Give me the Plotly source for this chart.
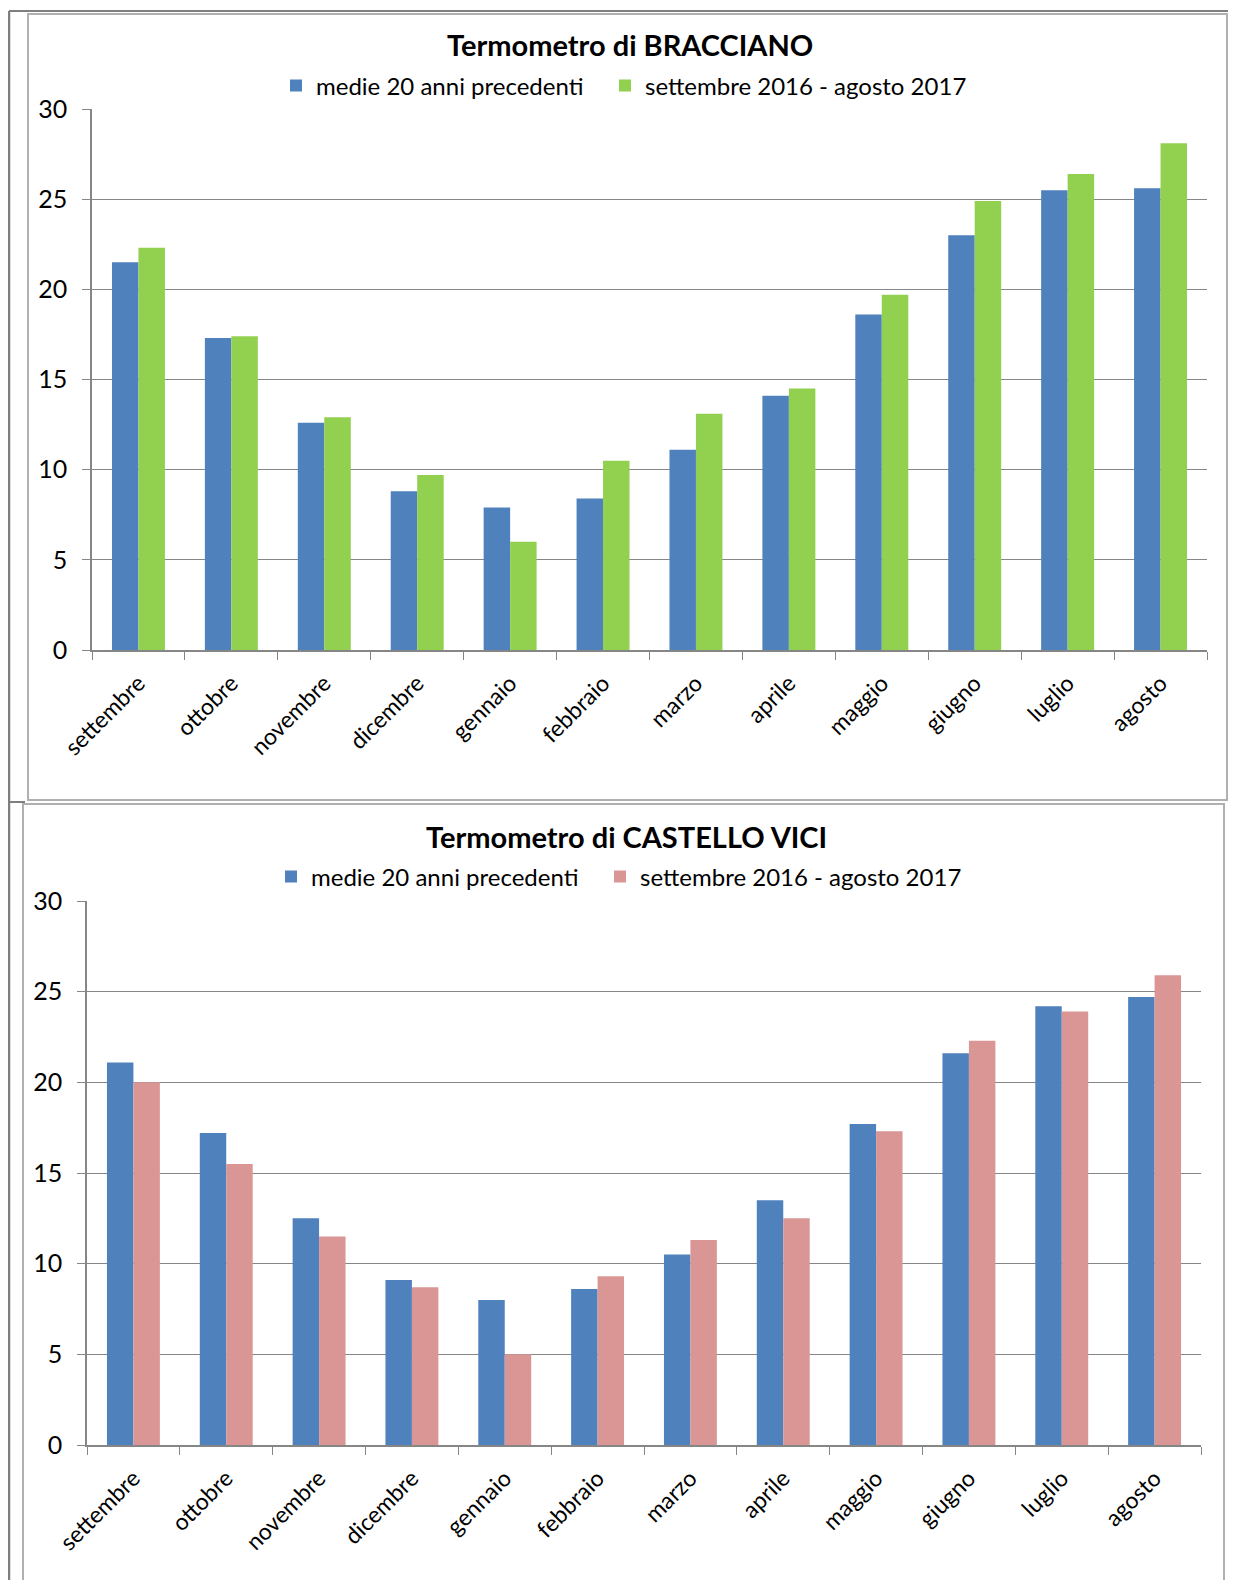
import plotly.graph_objects as go

# dati
mesi = ["settembre", "ottobre", "novembre", "dicembre", "gennaio", "febbraio",
        "marzo", "aprile", "maggio", "giugno", "luglio", "agosto"]

bracciano_medie = [21.5, 17.3, 12.6, 8.8, 7.9, 8.4, 11.1, 14.1, 18.6, 23.0, 25.5, 25.6]
bracciano_2017 = [22.3, 17.4, 12.9, 9.7, 6.0, 10.5, 13.1, 14.5, 19.7, 24.9, 26.4, 28.1]

castello_medie = [21.1, 17.2, 12.5, 9.1, 8.0, 8.6, 10.5, 13.5, 17.7, 21.6, 24.2, 24.7]
castello_2017 = [20.0, 15.5, 11.5, 8.7, 5.0, 9.3, 11.3, 12.5, 17.3, 22.3, 23.9, 25.9]

nome_medie = "medie 20 anni precedenti"
nome_anno = "settembre 2016 - agosto 2017"
titoli = ["Termometro di BRACCIANO", "Termometro di CASTELLO VICI"]

# la pagina ha 8px di margine sul body: la figura si riduce di conseguenza
W, H = 1220, 1572
OFF = 8
FONT = "Lato"
BLU = "#4F81BD"
VERDE = "#92D050"
ROSA = "#D99694"
GRIGIO = "#868686"


def px(x):
    return (x - OFF) / W


def py(y):
    return 1 - (y - OFF) / H


fig = go.Figure()

# una legenda per voce, cosi' ogni voce si puo' posizionare da sola
fig.add_trace(go.Bar(x=mesi, y=bracciano_medie, name=nome_medie, marker_color=BLU,
                     xaxis="x", yaxis="y", legend="legend"))
fig.add_trace(go.Bar(x=mesi, y=bracciano_2017, name=nome_anno, marker_color=VERDE,
                     xaxis="x", yaxis="y", legend="legend2"))
fig.add_trace(go.Bar(x=mesi, y=castello_medie, name=nome_medie, marker_color=BLU,
                     xaxis="x2", yaxis="y2", legend="legend3"))
fig.add_trace(go.Bar(x=mesi, y=castello_2017, name=nome_anno, marker_color=ROSA,
                     xaxis="x2", yaxis="y2", legend="legend4"))
fig.update_traces(marker_line_width=0, showlegend=True)

xax = dict(type="category", tickangle=-45, ticks="outside", tickson="boundaries",
           ticklen=8, tickcolor=GRIGIO, showline=True, linecolor=GRIGIO, linewidth=1.5,
           showgrid=False, automargin=False, ticklabelstandoff=9,
           tickfont=dict(family=FONT, size=23, color="#000"))
yax = dict(range=[0, 30], dtick=5, ticks="outside", ticklen=8, tickcolor=GRIGIO,
           showline=True, linecolor=GRIGIO, linewidth=1.5, showgrid=True,
           gridcolor=GRIGIO, gridwidth=1.2, zeroline=False, automargin=False,
           ticklabelstandoff=10,
           tickfont=dict(family=FONT, size=25, color="#000"))

legenda = dict(orientation="h", xanchor="left", yanchor="middle",
               font=dict(family=FONT, size=24, color="#000"),
               bgcolor="rgba(0,0,0,0)", itemwidth=30, visible=True)

fig.update_layout(
    width=W, height=H,
    margin=dict(l=0, r=0, t=0, b=0, autoexpand=False),
    paper_bgcolor="white", plot_bgcolor="white",
    showlegend=True,
    barmode="group", bargap=0.43, bargroupgap=0,
    xaxis=dict(xax, domain=[px(92), px(1207)], anchor="y"),
    yaxis=dict(yax, domain=[py(650), py(109)], anchor="x"),
    xaxis2=dict(xax, domain=[px(87), px(1201)], anchor="y2"),
    yaxis2=dict(yax, domain=[py(1445), py(901)], anchor="x2"),
    legend=dict(legenda, x=px(276), y=py(86)),
    legend2=dict(legenda, x=px(605), y=py(86)),
    legend3=dict(legenda, x=px(271), y=py(877)),
    legend4=dict(legenda, x=px(600), y=py(877)),
    annotations=[
        dict(text="<b>" + titoli[0] + "</b>", x=px(630), y=py(44), xref="paper", yref="paper",
             xanchor="center", yanchor="middle", showarrow=False,
             font=dict(family=FONT, size=29, color="#000")),
        dict(text="<b>" + titoli[1] + "</b>", x=px(626), y=py(836), xref="paper", yref="paper",
             xanchor="center", yanchor="middle", showarrow=False,
             font=dict(family=FONT, size=29, color="#000")),
    ],
    shapes=[
        # cornice esterna
        dict(type="line", xref="paper", yref="paper", x0=px(9), x1=px(9), y0=py(11), y1=0,
             line=dict(color="#7F7F7F", width=2.5)),
        dict(type="line", xref="paper", yref="paper", x0=px(9), x1=1, y0=py(11), y1=py(11),
             line=dict(color="#7F7F7F", width=2)),
        dict(type="line", xref="paper", yref="paper", x0=px(9), x1=px(25), y0=py(802), y1=py(802),
             line=dict(color="#7F7F7F", width=2)),
        # riquadri dei grafici
        dict(type="rect", xref="paper", yref="paper", x0=px(28), x1=px(1227), y0=py(800), y1=py(14),
             line=dict(color="#B0B0B0", width=2)),
        dict(type="rect", xref="paper", yref="paper", x0=px(23), x1=px(1224), y0=-0.01, y1=py(804),
             line=dict(color="#B0B0B0", width=2)),
    ],
)

fig.write_html("out.html")
